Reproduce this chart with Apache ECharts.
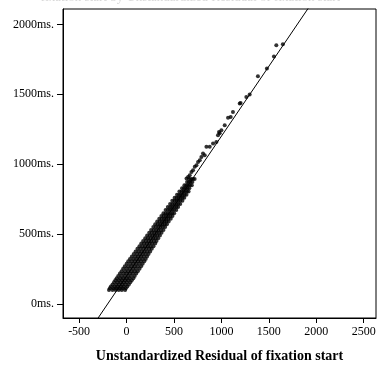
<!DOCTYPE html>
<html>
<head>
<meta charset="utf-8">
<script src="https://cdn.jsdelivr.net/npm/echarts@6/dist/echarts.min.js"></script>
<style>html,body{margin:0;padding:0;background:#fff;}#chart{width:381px;height:369px;}</style>
</head>
<body>
<div id="chart"></div>
<script>
// Tick labels
var xTicks = [-500, 0, 500, 1000, 1500, 2000, 2500];
var yTicks = [0, 500, 1000, 1500, 2000];
var xTitle = 'Unstandardized Residual of fixation start';
var yTitle = 'fixation start';
var chartTitle = 'fixation start by Unstandardized Residual of fixation start';

// Reference line (two end points, clipped by the plot box)
var refLine = [[-700, -500], [2700, 2900]];

// Dense band of points (residual, fixation start ms)
var densePoints = [
 [-185,100],[-148,100],[-115,100],[-82,100],[-50,100],[-15,100],
 [-176,112],[-140,112],[-108,112],[-75,112],[-42,112],[-8,112],
 [-165,125],[-127,125],[-95,125],[-62,125],[-30,125],[8,125],
 [-148,140],[-110,140],[-78,140],[-45,140],[-12,140],[24,140],
 [-132,155],[-95,155],[-62,155],[-30,155],[3,155],[40,155],
 [-118,170],[-82,170],[-48,170],[-15,170],[18,170],[55,170],
 [-104,185],[-67,185],[-34,185],[0,185],[33,185],[72,185],
 [-88,200],[-52,200],[-18,200],[15,200],[48,200],[86,200],
 [-70,218],[-33,218],[0,218],[33,218],[66,218],[102,218],
 [-52,235],[-15,235],[18,235],[52,235],[85,235],[119,235],
 [-36,252],[0,252],[34,252],[68,252],[100,252],[137,252],
 [-18,270],[18,270],[52,270],[85,270],[118,270],[154,270],
 [1,288],[38,288],[70,288],[102,288],[135,288],[170,288],
 [18,305],[55,305],[88,305],[120,305],[152,305],[187,305],
 [36,322],[72,322],[104,322],[136,322],[168,322],[202,322],
 [56,340],[92,340],[122,340],[152,340],[182,340],[216,340],
 [76,358],[110,358],[140,358],[170,358],[200,358],[232,358],
 [95,376],[128,376],[158,376],[188,376],[218,376],[249,376],
 [115,395],[148,395],[178,395],[208,395],[238,395],[266,395],
 [136,414],[168,414],[196,414],[224,414],[252,414],[284,414],
 [155,432],[186,432],[214,432],[242,432],[270,432],[302,432],
 [175,450],[205,450],[232,450],[260,450],[288,450],[316,450],
 [197,470],[226,470],[252,470],[280,470],[306,470],[334,470],
 [217,490],[246,490],[272,490],[298,490],[324,490],[352,490],
 [239,510],[267,510],[292,510],[318,510],[343,510],[369,510],
 [259,530],[287,530],[312,530],[337,530],[362,530],[389,530],
 [282,550],[310,550],[334,550],[358,550],[382,550],[407,550],
 [302,570],[330,570],[354,570],[378,570],[402,570],[426,570],
 [323,590],[350,590],[374,590],[398,590],[420,590],[444,590],
 [345,610],[372,610],[395,610],[418,610],[440,610],[466,610],
 [367,630],[393,630],[416,630],[438,630],[460,630],[484,630],
 [389,650],[414,650],[436,650],[458,650],[480,650],[502,650],
 [412,672],[437,672],[458,672],[480,672],[500,672],[524,672],
 [435,694],[460,694],[480,694],[502,694],[524,694],[544,694],
 [459,716],[482,716],[504,716],[525,716],[545,716],[566,716],
 [482,738],[506,738],[526,738],[546,738],[566,738],[589,738],
 [507,760],[530,760],[550,760],[570,760],[590,760],[609,760],
 [532,782],[554,782],[572,782],[592,782],[612,782],[632,782],
 [557,805],[580,805],[598,805],[616,805],[636,805],[654,805],
 [585,828],[606,828],[624,828],[642,828],[662,828],
 [610,850],[630,850],[648,850],[668,850],[688,850],
 [638,872],[656,872],[674,872],[694,872],
 [660,895],[680,895],[700,895],[718,895]
];

// Sparse upper points
var sparsePoints = [
 [632,898],[649,909],[666,921],[684,945],[701,957],[719,981],[737,993],
 [754,1016],[772,1029],[789,1052],[824,1064],[806,1076],[842,1124],[877,1124],
 [912,1148],[947,1159],[964,1207],[982,1221],[975,1231],[1000,1243],[1035,1279],
 [1070,1333],[1098,1338],[1122,1374],[1193,1434],[1203,1438],[1263,1481],[1298,1498],
 [1385,1629],[1480,1684],[1554,1771],[1579,1850],[1648,1857]
];

var serif = '"Liberation Serif", "DejaVu Serif", serif';
var chart = echarts.init(document.getElementById('chart'));
chart.setOption({
  animation: false,
  backgroundColor: '#ffffff',
  title: {
    text: chartTitle, left: 'center', top: -14,
    textStyle: {color: '#d8d8d8', fontFamily: serif, fontSize: 13, fontWeight: 'normal'}
  },
  grid: {left: 63, right: 5, top: 9, bottom: 51, containLabel: false, outerBoundsMode: 'none',
         show: true, borderColor: '#000', borderWidth: 1, backgroundColor: 'transparent'},
  xAxis: {
    type: 'value', min: -670, max: 2630,
    splitLine: {show: false},
    axisLine: {show: true, onZero: false, lineStyle: {color: '#000', width: 1}},
    axisTick: {show: true, length: 5, inside: false, customValues: xTicks, lineStyle: {color: '#000'}},
    axisLabel: {customValues: xTicks, color: '#000', fontFamily: serif, fontSize: 12, margin: 8,
      formatter: function (v) { return String(v); }},
    name: xTitle, nameLocation: 'middle', nameGap: 31,
    nameTextStyle: {color: '#000', fontFamily: serif, fontSize: 14, fontWeight: 'bold'}
  },
  yAxis: {
    type: 'value', min: -100, max: 2110,
    splitLine: {show: false},
    axisLine: {show: true, onZero: false, lineStyle: {color: '#000', width: 1}},
    axisTick: {show: true, length: 6, inside: false, customValues: yTicks, lineStyle: {color: '#000'}},
    axisLabel: {customValues: yTicks, color: '#000', fontFamily: serif, fontSize: 12, margin: 9,
      formatter: function (v) { return String(v) + 'ms.'; }},
    name: yTitle, nameLocation: 'middle', nameGap: 60, nameRotate: 90,
    nameTextStyle: {color: '#d8d8d8', fontFamily: serif, fontSize: 13}
  },
  series: [
    {type: 'line', data: refLine, symbol: 'none', clip: true, silent: true,
     lineStyle: {color: '#000', width: 1}, z: 1},
    {type: 'scatter', data: densePoints, symbol: 'circle', symbolSize: 4,
     itemStyle: {color: '#000'}, z: 2},
    {type: 'scatter', data: sparsePoints, symbol: 'circle', symbolSize: 4,
     itemStyle: {color: '#000'}, z: 2}
  ]
});
</script>
</body>
</html>
